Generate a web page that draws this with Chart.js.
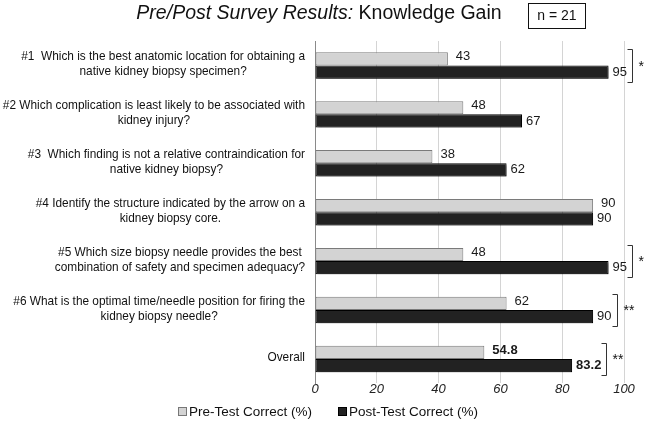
<!DOCTYPE html>
<html>
<head>
<meta charset="utf-8">
<script src="https://cdn.jsdelivr.net/npm/chart.js@4/dist/chart.umd.min.js"></script>
<style>
  html, body { margin: 0; padding: 0; background: #fff; }
  #wrap { width: 649px; height: 423px; position: relative; }
</style>
</head>
<body>
<div id="wrap"><canvas id="grafico"></canvas></div>
<script>
// preguntas (dos lineas cada una)
const categorias = [
    ['#1  Which is the best anatomic location for obtaining a', 'native kidney biopsy specimen?'],
    ['#2 Which complication is least likely to be associated with', 'kidney injury?'],
    ['#3  Which finding is not a relative contraindication for', 'native kidney biopsy?'],
    ['#4 Identify the structure indicated by the arrow on a', 'kidney biopsy core.'],
    ['#5 Which size biopsy needle provides the best', 'combination of safety and specimen adequacy?'],
    ['#6 What is the optimal time/needle position for firing the', 'kidney biopsy needle?'],
    ['Overall']
];
const preTest = [43, 48, 38, 90, 48, 62, 54.8];
const postTest = [95, 67, 62, 90, 95, 90, 83.2];
const significancia = ['*', '', '', '', '*', '**', '**'];
const ticksX = [0, 20, 40, 60, 80, 100];

const FONT = 'Arial, "Liberation Sans", sans-serif';

function fmt(v) {
    return Number.isInteger(v) ? String(v) : v.toFixed(1);
}

// sombra para las barras oscuras
const sombra = {
    id: 'sombra',
    beforeDatasetDraw(chart, args) {
        if (args.index === 1) {
            const ctx = chart.ctx;
            ctx.save();
            ctx.shadowColor = 'rgba(0,0,0,0.35)';
            ctx.shadowOffsetX = 2;
            ctx.shadowOffsetY = 2;
            ctx.shadowBlur = 2;
        }
    },
    afterDatasetDraw(chart, args) {
        if (args.index === 1) chart.ctx.restore();
    }
};

// titulo, etiquetas, valores, corchetes y leyenda
const extras = {
    id: 'extras',
    afterDraw(chart) {
        const ctx = chart.ctx;
        const area = chart.chartArea;
        const yScale = chart.scales.y;

        // titulo con dos estilos
        ctx.save();
        ctx.fillStyle = '#111';
        ctx.textBaseline = 'middle';
        const parte1 = 'Pre/Post Survey Results: ';
        const parte2 = 'Knowledge Gain';
        ctx.font = 'italic 19.5px ' + FONT;
        const w1 = ctx.measureText(parte1).width;
        ctx.font = '19.5px ' + FONT;
        const w2 = ctx.measureText(parte2).width;
        const x0 = 319 - (w1 + w2) / 2;
        ctx.font = 'italic 19.5px ' + FONT;
        ctx.textAlign = 'left';
        ctx.fillText(parte1, x0, 14);
        ctx.font = '19.5px ' + FONT;
        ctx.fillText(parte2, x0 + w1, 14);

        // caja n = 21
        ctx.fillStyle = '#fff';
        ctx.strokeStyle = '#111';
        ctx.lineWidth = 1;
        ctx.fillRect(528.5, 3.5, 57, 25);
        ctx.strokeRect(528.5, 3.5, 57, 25);
        ctx.fillStyle = '#111';
        ctx.font = '14px ' + FONT;
        ctx.textAlign = 'center';
        ctx.fillText('n = 21', 557, 16.5);

        // etiquetas de las preguntas: bloque alineado a la derecha, lineas centradas
        ctx.font = '11.85px ' + FONT;
        ctx.fillStyle = '#111';
        const derecha = area.left - 10;
        categorias.forEach((lineas, i) => {
            const yc = yScale.getPixelForValue(i);
            let ancho = 0;
            lineas.forEach(l => { ancho = Math.max(ancho, ctx.measureText(l).width); });
            const cx = derecha - ancho / 2;
            const alto = 15;
            const y0 = yc - (lineas.length - 1) * alto / 2 - 1;
            lineas.forEach((l, k) => ctx.fillText(l, cx, y0 + k * alto));
        });

        // valores al final de cada barra
        ctx.textAlign = 'left';
        const finEtiqueta = [];
        [0, 1].forEach(d => {
            const meta = chart.getDatasetMeta(d);
            const datos = chart.data.datasets[d].data;
            meta.data.forEach((bar, i) => {
                const esTotal = i === categorias.length - 1;
                ctx.font = (esTotal ? 'bold ' : '') + '13px ' + FONT;
                ctx.fillStyle = '#1a1a1a';
                const txt = fmt(datos[i]);
                const x = bar.x + (d === 0 ? 8 : 4);
                ctx.fillText(txt, x, bar.y - (d === 0 ? 2 : 0));
                const fin = x + ctx.measureText(txt).width;
                finEtiqueta[i] = Math.max(finEtiqueta[i] || 0, fin);
            });
        });

        // corchetes de significancia
        const metaPre = chart.getDatasetMeta(0);
        const metaPost = chart.getDatasetMeta(1);
        ctx.strokeStyle = '#333';
        ctx.lineWidth = 1;
        significancia.forEach((s, i) => {
            if (!s) return;
            const pre = metaPre.data[i];
            const post = metaPost.data[i];
            const top = Math.round(pre.y - pre.height / 2 - 3) + 0.5;
            const bottom = Math.round(post.y + post.height / 2 + 3) + 0.5;
            const bx = Math.round(finEtiqueta[i] + 5) + 0.5;
            ctx.beginPath();
            ctx.moveTo(bx - 5, top);
            ctx.lineTo(bx, top);
            ctx.lineTo(bx, bottom);
            ctx.lineTo(bx - 5, bottom);
            ctx.stroke();
            ctx.font = '14px ' + FONT;
            ctx.fillStyle = '#111';
            ctx.fillText(s, bx + 6, (top + bottom) / 2 + 1);
        });

        // leyenda
        ctx.font = '13.5px ' + FONT;
        ctx.lineWidth = 1;
        const yl = 412;
        const items = [
            { x: 178, texto: 'Pre-Test Correct (%)', fondo: '#d3d3d3', borde: '#777' },
            { x: 338, texto: 'Post-Test Correct (%)', fondo: '#222', borde: '#000' }
        ];
        items.forEach(it => {
            ctx.fillStyle = it.fondo;
            ctx.strokeStyle = it.borde;
            ctx.fillRect(it.x + 0.5, yl - 4.5, 8, 8);
            ctx.strokeRect(it.x + 0.5, yl - 4.5, 8, 8);
            ctx.fillStyle = '#111';
            ctx.fillText(it.texto, it.x + 11, yl);
        });
        ctx.restore();
    }
};

const data = {
    labels: categorias,
    datasets: [{
        label: 'Pre-Test Correct (%)',
        data: preTest,
        backgroundColor: '#d3d3d3',
        borderColor: '#7a7a7a',
        borderWidth: 1,
        borderSkipped: false
    }, {
        label: 'Post-Test Correct (%)',
        data: postTest,
        backgroundColor: '#222222',
        borderColor: '#000000',
        borderWidth: 1,
        borderSkipped: false
    }]
};

const config = {
    type: 'bar',
    data: data,
    options: {
        indexAxis: 'y',
        responsive: true,
        maintainAspectRatio: false,
        animation: false,
        categoryPercentage: 0.54,
        barPercentage: 1,
        layout: { padding: { top: 41, right: 25, left: 0, bottom: 28 } },
        scales: {
            x: {
                min: 0,
                max: 100,
                afterBuildTicks(scale) {
                    scale.ticks = ticksX.map(v => ({ value: v }));
                },
                grid: { color: '#d4d4d4', drawTicks: false },
                border: { display: false },
                ticks: {
                    padding: -2,
                    color: '#222',
                    font: { family: FONT, size: 13, style: 'italic' }
                }
            },
            y: {
                grid: { display: false },
                border: { color: '#8a8a8a' },
                ticks: { display: false },
                afterFit(scale) { scale.width = 315; }
            }
        },
        plugins: {
            legend: { display: false },
            tooltip: { enabled: false }
        }
    },
    plugins: [sombra, extras]
};

const ctx = document.getElementById('grafico').getContext('2d');
new Chart(ctx, config);
</script>
</body>
</html>
